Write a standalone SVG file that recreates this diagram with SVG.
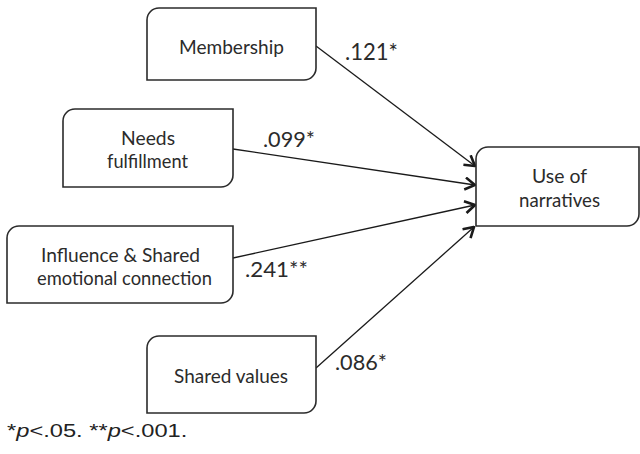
<svg xmlns="http://www.w3.org/2000/svg" width="640" height="454" viewBox="0 0 640 454">
  <style>
    .box { fill: #ffffff; stroke: #2b2b2b; stroke-width: 1.6; }
    .lbl { font-family: Lato, "Open Sans", sans-serif; font-size: 19px; fill: #2b2b2b; }
    .coef { font-family: Lato, "Open Sans", sans-serif; fill: #2b2b2b; }
    .edge { fill: none; stroke: #1a1a1a; stroke-width: 1.3; marker-end: url(#head); }
    .note { font-family: "Liberation Sans", Arial, sans-serif; font-size: 18.5px; fill: #222; }
  </style>
  <defs>
    <marker id="head" markerUnits="userSpaceOnUse" viewBox="0 0 12 14" refX="11" refY="7" markerWidth="12" markerHeight="14" orient="auto">
      <path d="M1,1 L11,7 L1,13" fill="none" stroke="#1a1a1a" stroke-width="2.6" stroke-linejoin="miter"/>
    </marker>
  </defs>
  <rect width="640" height="454" fill="#ffffff"/>

  <g id="connectors">
    <line class="edge" x1="316" y1="46" x2="475" y2="166"/>
    <line class="edge" x1="233" y1="149" x2="475" y2="185"/>
    <line class="edge" x1="233" y1="258" x2="475" y2="205"/>
    <line class="edge" x1="316" y1="368" x2="474" y2="227"/>
    <text class="coef" x="345" y="60" font-size="24" textLength="53" lengthAdjust="spacingAndGlyphs">.121*</text>
    <text class="coef" x="263" y="147" font-size="22" textLength="52" lengthAdjust="spacingAndGlyphs">.099*</text>
    <text class="coef" x="245" y="277" font-size="21" textLength="63" lengthAdjust="spacingAndGlyphs">.241**</text>
    <text class="coef" x="335" y="370" font-size="21" textLength="52" lengthAdjust="spacingAndGlyphs">.086*</text>
  </g>

  <g id="membership">
    <path class="box" d="M159,8 H316 V68 A12,12 0 0 1 304,80 H147 V20 A12,12 0 0 1 159,8 Z"/>
    <text class="lbl" x="179" y="54" textLength="105" lengthAdjust="spacingAndGlyphs">Membership</text>
  </g>

  <g id="needs">
    <path class="box" d="M75,109 H233 V175 A12,12 0 0 1 221,187 H63 V121 A12,12 0 0 1 75,109 Z"/>
    <text class="lbl" x="121" y="145" textLength="54" lengthAdjust="spacingAndGlyphs">Needs</text>
    <text class="lbl" x="107" y="168" textLength="81" lengthAdjust="spacingAndGlyphs">fulfillment</text>
  </g>

  <g id="influence">
    <path class="box" d="M19,226 H233 V291 A12,12 0 0 1 221,303 H7 V238 A12,12 0 0 1 19,226 Z"/>
    <text class="lbl" x="41" y="262" textLength="159" lengthAdjust="spacingAndGlyphs">Influence &amp; Shared</text>
    <text class="lbl" x="37" y="285" textLength="175" lengthAdjust="spacingAndGlyphs">emotional connection</text>
  </g>

  <g id="shared-values">
    <path class="box" d="M159,336 H316 V401 A12,12 0 0 1 304,413 H147 V348 A12,12 0 0 1 159,336 Z"/>
    <text class="lbl" x="174" y="383" textLength="114" lengthAdjust="spacingAndGlyphs">Shared values</text>
  </g>

  <g id="use-of-narratives">
    <path class="box" d="M488,147 H639 V214 A12,12 0 0 1 627,226 H476 V159 A12,12 0 0 1 488,147 Z"/>
    <text class="lbl" x="532" y="183" textLength="55" lengthAdjust="spacingAndGlyphs">Use of</text>
    <text class="lbl" x="519" y="207" textLength="81" lengthAdjust="spacingAndGlyphs">narratives</text>
  </g>

  <text class="note" transform="translate(7,437) scale(1.28,1)">*<tspan font-style="italic">p</tspan>&lt;.05. **<tspan font-style="italic">p</tspan>&lt;.001.</text>
</svg>
